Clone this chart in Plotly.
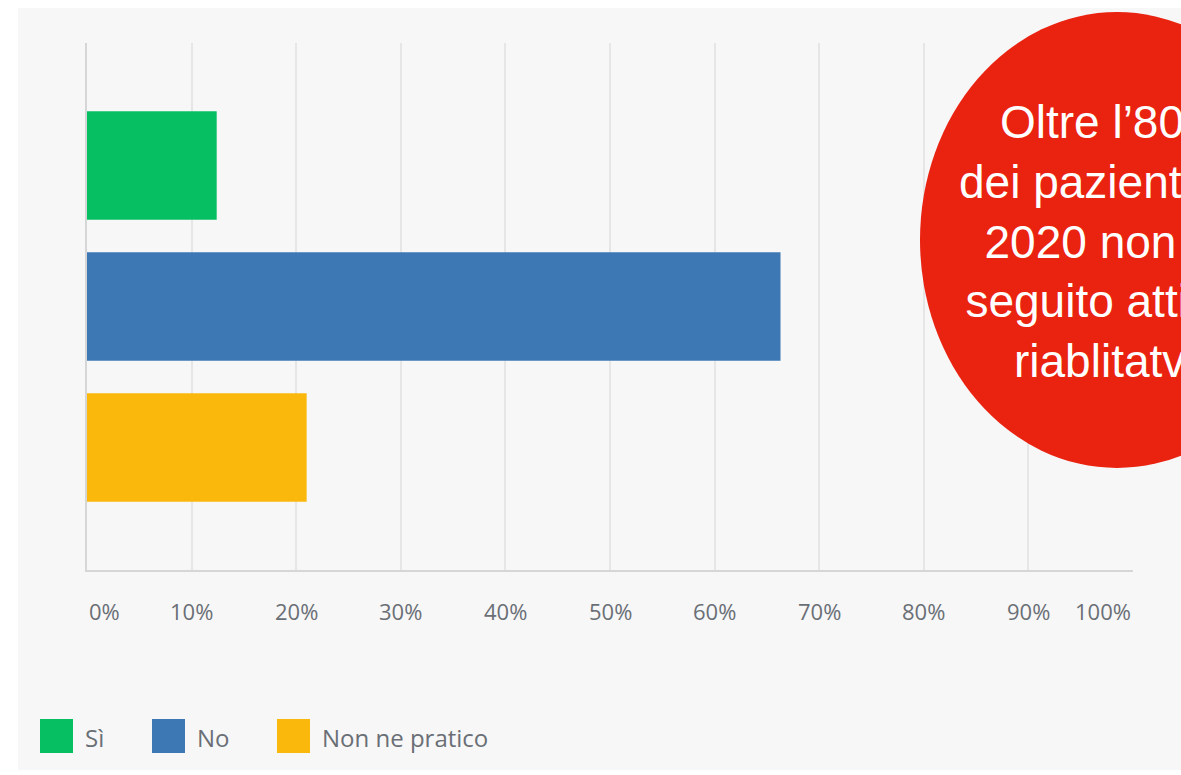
import plotly.graph_objects as go

# ---- data ----
categories = ["Sì", "No", "Non ne pratico"]
values = [12.4, 66.3, 21.0]
colors = ["#07bf63", "#3d78b4", "#fbb80c"]
tick_values = [0, 10, 20, 30, 40, 50, 60, 70, 80, 90, 100]
tick_labels = ["0%", "10%", "20%", "30%", "40%", "50%", "60%", "70%", "80%", "90%", "100%"]
callout_lines = ["Oltre l’80%", "dei pazienti nel", "2020 non ha", "seguito attività", "riablitatve"]

W, H = 1181, 775
L, R, T, B = 87, 48, 43, 205
pw, ph = W - L - R, H - T - B


def px(x):
    return (x - L) / pw


def py(y):
    return (H - B - y) / ph


fig = go.Figure()
fig.add_trace(go.Bar(
    y=categories, x=values, orientation="h",
    marker=dict(color=colors, line=dict(width=0)),
    width=0.77, showlegend=False, hoverinfo="x+y",
))

shapes = []
# light grey card background
shapes.append(dict(type="rect", xref="paper", yref="paper", layer="below",
                   x0=px(18), x1=px(W + 5), y0=py(770), y1=py(8),
                   fillcolor="#f7f7f7", line=dict(width=0)))
# red callout ellipse
shapes.append(dict(type="circle", xref="paper", yref="paper", layer="above",
                   x0=px(920), x1=px(1314), y0=py(468), y1=py(12),
                   fillcolor="#ea2210", line=dict(width=0)))

annotations = []
for v, t in zip(tick_values, tick_labels):
    anchor = "left" if v == tick_values[0] else ("right" if v == tick_values[-1] else "center")
    annotations.append(dict(x=v, xref="x", y=py(611), yref="paper", text=t,
                            showarrow=False, xanchor=anchor, yanchor="middle",
                            font=dict(family="Open Sans", size=22, color="#6a6f76")))

# manual legend
legend_x = [40, 152, 277]
for cat, col, lx in zip(categories, colors, legend_x):
    shapes.append(dict(type="rect", xref="paper", yref="paper", layer="above",
                       x0=px(lx), x1=px(lx + 33), y0=py(753), y1=py(719),
                       fillcolor=col, line=dict(width=0)))
    annotations.append(dict(x=px(lx + 43), xref="paper", y=py(737), yref="paper",
                            text=cat, showarrow=False, xanchor="left", yanchor="middle",
                            font=dict(family="Open Sans", size=24, color="#6a6f76")))

annotations.append(dict(x=px(1112), xref="paper", y=py(241), yref="paper",
                        text="<br>".join(callout_lines), showarrow=False,
                        xanchor="center", yanchor="middle", align="center",
                        font=dict(family="Liberation Sans", size=46, color="#ffffff")))

fig.update_layout(
    width=W, height=H,
    margin=dict(l=L, r=R, t=T, b=B),
    paper_bgcolor="#ffffff", plot_bgcolor="rgba(0,0,0,0)",
    shapes=shapes, annotations=annotations,
    xaxis=dict(range=[0, 100], tickvals=tick_values, showticklabels=False,
               showgrid=True, gridcolor="#e6e6e6", gridwidth=1.5,
               zeroline=False, showline=True, linecolor="#d6d6d6", linewidth=2,
               fixedrange=True),
    yaxis=dict(range=[2.87, -0.87], showticklabels=False, showgrid=False,
               zeroline=False, showline=True, linecolor="#d6d6d6", linewidth=2,
               fixedrange=True),
    bargap=0.2,
)

fig.write_html(
    "out.html",
    config={"displayModeBar": False},
    post_script="document.body.style.margin='0';document.body.style.overflow='hidden';",
)
